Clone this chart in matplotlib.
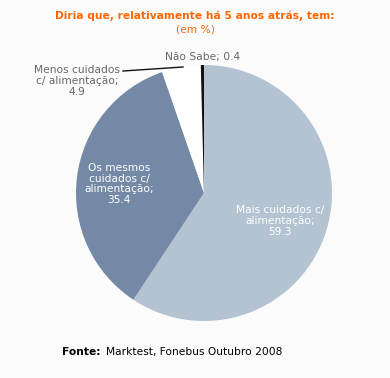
import matplotlib.pyplot as plt

labels = ['Mais cuidados c/\nalimentação;\n59.3', 'Os mesmos\ncuidados c/\nalimentação;\n35.4',
          'Menos cuidados\nc/ alimentação;\n4.9', 'Não Sabe; 0.4']
values = [59.3, 35.4, 4.9, 0.4]
colors = ['#b4c3d1', '#7389a6', '#ffffff', '#111111']

W, H = 390, 378
fig = plt.figure(figsize=(W / 100, H / 100), dpi=100, facecolor='#fbfbfb')
ax = fig.add_axes([0, 0, 1, 1])

cx, cy, r = 204, H - 193, 128
ax.pie(values, colors=colors, startangle=90, counterclock=False,
       center=(cx, cy), radius=r, frame=True,
       wedgeprops=dict(linewidth=0))
ax.set_xlim(0, W)
ax.set_ylim(0, H)
ax.set_aspect('equal')
ax.axis('off')

fs = 7.7
orange = '#ff6600'
ax.text(195, H - 16, 'Diria que, relativamente há 5 anos atrás, tem:', color=orange,
        fontsize=fs, fontweight='bold', ha='center', va='center')
ax.text(195, H - 29, '(em %)', color=orange, fontsize=fs, ha='center', va='center')

ax.text(280, H - 221, labels[0], color='white', fontsize=fs, ha='center', va='center',
        linespacing=1.12)
ax.text(119, H - 184, labels[1], color='white', fontsize=fs, ha='center', va='center',
        linespacing=1.12)
ax.text(77, H - 81, labels[2], color='#666666', fontsize=fs, ha='center', va='center',
        linespacing=1.12)
ax.text(203, H - 57, labels[3], color='#666666', fontsize=fs, ha='center', va='center')
ax.plot([123, 183], [H - 71, H - 67], color='#111111', linewidth=1)

ax.text(62, H - 352, 'Fonte:', color='black', fontsize=fs, fontweight='bold',
        ha='left', va='center')
ax.text(106, H - 352, 'Marktest, Fonebus Outubro 2008', color='black', fontsize=fs,
        ha='left', va='center')

fig.savefig('out.png', dpi=100, facecolor=fig.get_facecolor())
